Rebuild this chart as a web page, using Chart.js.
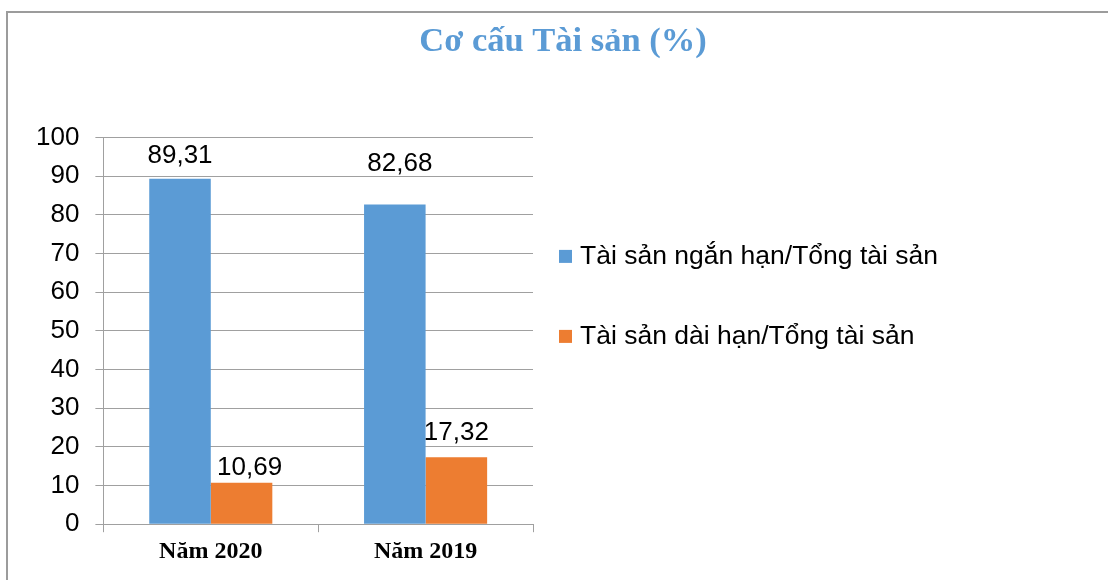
<!DOCTYPE html>
<html lang="vi">
<head>
<meta charset="utf-8">
<title>Cơ cấu Tài sản (%)</title>
<script src="https://cdn.jsdelivr.net/npm/chart.js@4.4.1/dist/chart.umd.min.js"></script>
<style>
    html, body { margin: 0; padding: 0; overflow: hidden; background: #fff; }
    #khung {
        position: absolute; left: 6px; top: 11px; width: 1200px; height: 700px;
        border-left: 2px solid #9c9c9c; border-top: 2px solid #9c9c9c;
    }
    #coCauChart { position: absolute; left: 0; top: 0; }
</style>
</head>
<body>
<div id="khung"></div>
<canvas id="coCauChart" width="1126" height="580"></canvas>
<script>
// Dữ liệu
const nam = ['Năm 2020', 'Năm 2019'];
const nganHan = [89.31, 82.68];   // Tài sản ngắn hạn/Tổng tài sản
const daiHan = [10.69, 17.32];    // Tài sản dài hạn/Tổng tài sản
const yTicks = [0, 10, 20, 30, 40, 50, 60, 70, 80, 90, 100];

const sansFont = '"Liberation Sans", Arial, sans-serif';
const serifFont = '"Liberation Serif", "Times New Roman", serif';

// Nhãn giá trị trên đầu cột (kiểu số Việt Nam: dấu phẩy thập phân)
const nhanGiaTri = {
    id: 'nhanGiaTri',
    afterDatasetsDraw(chart, args, opts) {
        const ctx = chart.ctx;
        ctx.save();
        ctx.font = opts.size + 'px ' + sansFont;
        ctx.fillStyle = opts.color;
        ctx.textAlign = 'center';
        ctx.textBaseline = 'alphabetic';
        chart.data.datasets.forEach((ds, i) => {
            chart.getDatasetMeta(i).data.forEach((bar, j) => {
                const [dx, dy] = opts.nudge[i][j];
                const text = ds.data[j].toFixed(2).replace('.', ',');
                ctx.fillText(text, bar.x + dx, bar.y - dy);
            });
        });
        ctx.restore();
    }
};

// Chú thích bên phải, các mục cách xa nhau như bản gốc
const chuThich = {
    id: 'chuThich',
    afterDraw(chart, args, opts) {
        const { ctx, chartArea } = chart;
        ctx.save();
        ctx.font = opts.size + 'px ' + sansFont;
        ctx.textBaseline = 'middle';
        ctx.textAlign = 'left';
        chart.data.datasets.forEach((ds, i) => {
            const x = chartArea.right + opts.left;
            const y = chartArea.top + opts.top + i * opts.spacing;
            ctx.fillStyle = ds.backgroundColor;
            ctx.fillRect(x, y - opts.box / 2, opts.box, opts.box);
            ctx.fillStyle = opts.color;
            ctx.fillText(ds.label, x + opts.box + opts.gap, y);
        });
        ctx.restore();
    }
};

const ctx = document.getElementById('coCauChart').getContext('2d');
const chart = new Chart(ctx, {
    type: 'bar',
    data: {
        labels: nam,
        datasets: [
            {
                label: 'Tài sản ngắn hạn/Tổng tài sản',
                data: nganHan,
                backgroundColor: '#5B9BD5'
            },
            {
                label: 'Tài sản dài hạn/Tổng tài sản',
                data: daiHan,
                backgroundColor: '#ED7D31'
            }
        ]
    },
    options: {
        responsive: false,
        animation: false,
        events: [],
        categoryPercentage: 0.573,
        barPercentage: 1,
        layout: {
            padding: { left: 20, right: 20, top: 0, bottom: 9 }
        },
        scales: {
            x: {
                grid: {
                    display: true,
                    drawOnChartArea: false,
                    drawTicks: true,
                    tickLength: 8,
                    color: '#a0a0a0'
                },
                border: { color: '#a0a0a0' },
                ticks: {
                    padding: 5,
                    color: '#000',
                    font: { family: serifFont, size: 24, weight: 'bold' }
                }
            },
            y: {
                min: 0,
                max: 100,
                afterBuildTicks: (scale) => {
                    scale.ticks = yTicks.map(v => ({ value: v }));
                },
                grid: { color: '#a0a0a0', tickLength: 8 },
                border: { color: '#a0a0a0' },
                ticks: {
                    padding: 16,
                    color: '#000',
                    font: { family: sansFont, size: 26 }
                }
            },
            // trục ẩn chỉ để giữ chỗ cho phần chú thích bên phải
            choChuThich: {
                type: 'linear',
                position: 'right',
                grid: { display: false },
                border: { display: false },
                ticks: { display: false },
                afterFit: (scale) => { scale.width = 573; }
            }
        },
        plugins: {
            legend: { display: false },
            tooltip: { enabled: false },
            title: {
                display: true,
                text: 'Cơ cấu Tài sản (%)',
                color: '#5B9BD5',
                font: { family: serifFont, size: 34.5, weight: 'bold', lineHeight: 1.2 },
                padding: { top: 21, bottom: 75 }
            },
            nhanGiaTri: {
                size: 26,
                color: '#000',
                // [dịch ngang, khoảng cách trên đầu cột] cho từng nhãn
                nudge: [[[0, 16], [5, 33]], [[8, 8], [0, 17]]]
            },
            chuThich: {
                size: 26.5,
                color: '#000',
                left: 26,
                top: 119,
                spacing: 80,
                box: 13,
                gap: 8
            }
        }
    },
    plugins: [nhanGiaTri, chuThich]
});
</script>
</body>
</html>
